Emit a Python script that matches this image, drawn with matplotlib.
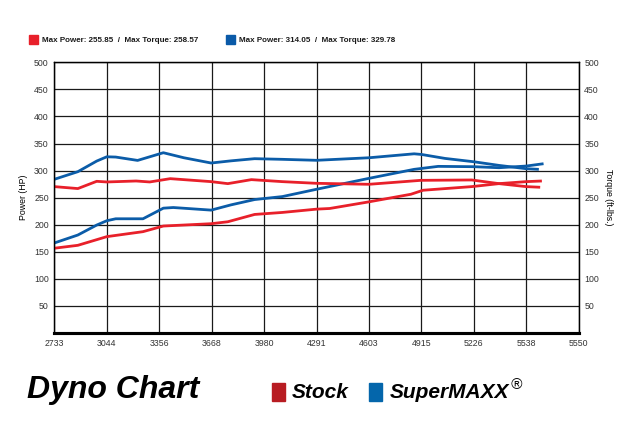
import numpy as np
import matplotlib.pyplot as plt
from matplotlib.patches import Rectangle

# rpm axis: ten even divisions, last label printed as the rated max
rpm_step = 311.6
rpm_start = 2733
rpm_labels = ["2733", "3044", "3356", "3668", "3980", "4291",
              "4603", "4915", "5226", "5538", "5550"]

# SuperMAXX curves
blue_upper_rpm = [2733, 2873, 2985, 3045, 3098, 3228, 3381, 3503, 3665, 3783, 3923,
                  4088, 4291, 4603, 4871, 4915, 5054, 5226, 5375, 5537, 5612]
blue_upper = [283.9, 298.0, 317.6, 325.5, 325.0, 318.8, 333.0, 323.7, 314.0, 318.0, 322.0,
              320.8, 319.0, 323.7, 331.0, 329.8, 322.5, 316.3, 309.6, 303.5, 302.3]

blue_lower_rpm = [2733, 2873, 2985, 3045, 3098, 3260, 3381, 3440, 3665, 3783, 3923,
                  4088, 4291, 4603, 4871, 5014, 5226, 5375, 5537, 5640]
blue_lower = [166.3, 181.0, 199.4, 207.4, 211.0, 211.0, 230.6, 231.8, 227.0, 236.7, 246.5,
              252.0, 265.5, 285.7, 302.3, 307.8, 307.2, 305.3, 308.4, 312.7]

# Stock curves
red_upper_rpm = [2733, 2873, 2985, 3045, 3219, 3300, 3422, 3665, 3764, 3904, 4088,
                 4291, 4603, 4911, 5213, 5375, 5537, 5620]
red_upper = [270.4, 266.8, 280.2, 279.0, 280.8, 279.0, 285.1, 279.6, 275.9, 283.3, 279.6,
             276.5, 274.7, 282.0, 282.7, 275.9, 270.4, 269.2]

red_lower_rpm = [2733, 2873, 3045, 3260, 3381, 3665, 3764, 3923, 4088, 4291, 4369,
                 4603, 4852, 4924, 5213, 5375, 5537, 5630]
red_lower = [156.6, 162.0, 178.0, 187.2, 197.6, 201.9, 205.5, 219.0, 222.7, 228.8, 230.0,
             242.3, 256.3, 263.7, 270.4, 275.9, 279.6, 280.8]

stock_label = "Max Power: 255.85  /  Max Torque: 258.57"
maxx_label = "Max Power: 314.05  /  Max Torque: 329.78"

red = "#e8202a"
blue = "#0b5ca8"
font = ["Liberation Sans", "DejaVu Sans"]

fig = plt.figure(figsize=(6.32, 4.33), dpi=100)
ax = fig.add_axes([0.0859, 0.2309, 0.8298, 0.6252])

xticks = [rpm_start + i * rpm_step for i in range(len(rpm_labels))]
ax.set_xlim(xticks[0], xticks[-1])
ax.set_ylim(0, 500)
ax.set_xticks(xticks)
ax.set_xticklabels(rpm_labels, fontsize=6.3, color="#333333", family=font)
yticks = list(range(50, 501, 50))
ax.set_yticks(yticks)
ax.set_yticklabels([str(v) for v in yticks], fontsize=6.3, color="#333333", family=font)
ax.tick_params(length=0, pad=4)

ax2 = ax.twinx()
ax2.set_ylim(0, 500)
ax2.set_yticks(yticks)
ax2.set_yticklabels([str(v) for v in yticks], fontsize=6.3, color="#333333", family=font)
ax2.tick_params(length=0, pad=4)

ax.grid(True, color="#1a1a1a", linewidth=0.9)
for side in ["left", "right", "top"]:
    ax.spines[side].set_linewidth(0.9)
    ax2.spines[side].set_linewidth(0.9)
ax.spines["bottom"].set_linewidth(2.2)
ax2.spines["bottom"].set_linewidth(2.2)

ax.set_ylabel("Power (HP)", fontsize=6.3, family=font, labelpad=4)
ax2.set_ylabel("Torque (ft-lbs.)", fontsize=6.3, family=font, rotation=270, labelpad=10)

lw = 2.0
ax.plot(blue_upper_rpm, blue_upper, color=blue, lw=lw, solid_capstyle="butt")
ax.plot(blue_lower_rpm, blue_lower, color=blue, lw=lw, solid_capstyle="butt")
ax.plot(red_upper_rpm, red_upper, color=red, lw=lw, solid_capstyle="butt")
ax.plot(red_lower_rpm, red_lower, color=red, lw=lw, solid_capstyle="butt")

# header legend
def header_key(x_px, color, text):
    fig.patches.append(Rectangle((x_px / 632, 1 - 44 / 433), 9 / 632, 9 / 433,
                                 transform=fig.transFigure, color=color))
    fig.text((x_px + 13) / 632, 1 - 40 / 433, text, fontsize=5.8, weight="bold",
             family=font, va="center", color="#1a1a1a")

header_key(29, red, stock_label)
header_key(226, "#0a5aa8", maxx_label)

# footer title and key
fig.text(27 / 632, 1 - 390 / 433, "Dyno Chart", fontsize=23, weight="bold", style="italic",
         family=font, va="center", color="black")
fig.patches.append(Rectangle((272 / 632, 1 - 401 / 433), 13 / 632, 18 / 433,
                             transform=fig.transFigure, color="#b81c22"))
fig.text(292 / 632, 1 - 392 / 433, "Stock", fontsize=15, weight="bold", style="italic",
         family=font, va="center", color="black")
fig.patches.append(Rectangle((369 / 632, 1 - 401 / 433), 13 / 632, 18 / 433,
                             transform=fig.transFigure, color="#0466ab"))
maxx = fig.text(390 / 632, 1 - 392 / 433, "SuperMAXX", fontsize=15, weight="bold",
                style="italic", family=font, va="center", color="black")

# registered mark sits just after the brand name
renderer = fig.canvas.get_renderer()
bb = maxx.get_window_extent(renderer)
fig.text(bb.x1 / 632 + 1 / 632, 1 - 385 / 433, "\u00ae", fontsize=11, family=font,
         va="center", color="black", style="italic")

fig.savefig("out.png", dpi=100)
